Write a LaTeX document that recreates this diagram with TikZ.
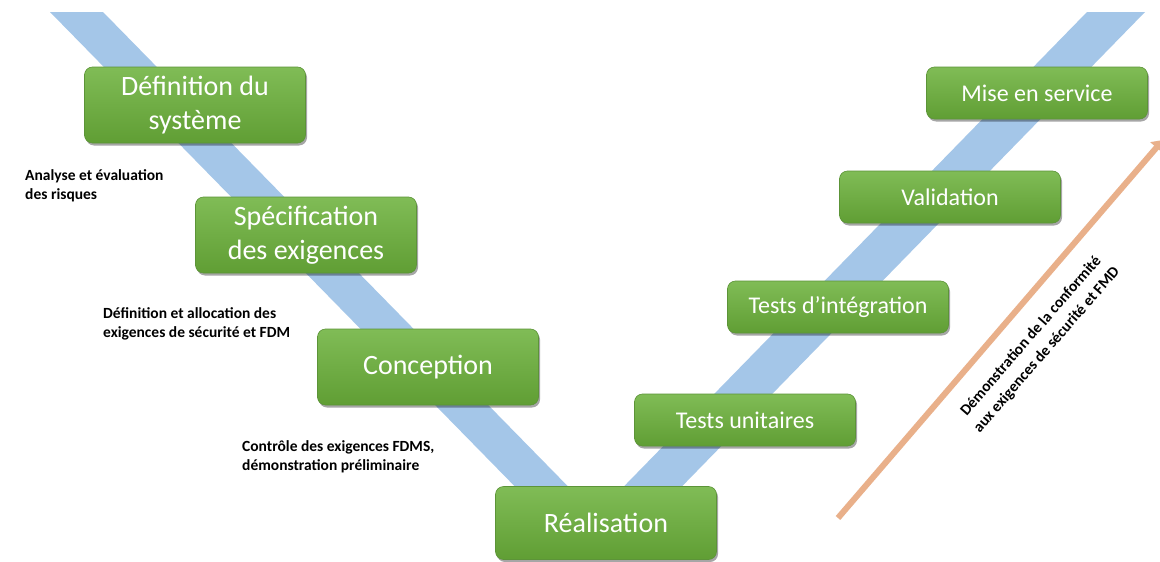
\documentclass[tikz,border=0pt]{standalone}
\usepackage{fontspec}
\setmainfont{Carlito}
\usetikzlibrary{shadows,arrows.meta}
\definecolor{band}{RGB}{164,198,232}
\definecolor{gtop}{RGB}{128,188,86}
\definecolor{gbot}{RGB}{96,158,52}
\definecolor{gline}{RGB}{92,148,56}
\definecolor{arrowc}{RGB}{233,176,138}
\begin{document}
\begin{tikzpicture}[x=1pt,y=-1pt,
  stage/.style={rounded corners=8pt, top color=gtop, bottom color=gbot, draw=gline, line width=0.6pt,
    drop shadow={shadow xshift=1.5pt, shadow yshift=-2.5pt, fill=black, opacity=0.35},
    text=white, align=center, inner sep=0pt, minimum width=221pt},
  big/.style={stage, minimum height=76pt, font=\fontsize{28}{34}\selectfont},
  small/.style={stage, minimum height=52pt, font=\fontsize{24}{28}\selectfont},
  note/.style={font=\bfseries\fontsize{15.5}{19.5}\selectfont, align=left, anchor=north west, inner sep=0pt}]
\useasboundingbox (0,0) rectangle (1160,562);
\clip (0,0) rectangle (1160,562);
\fill[white] (0,0) rectangle (1160,562);
% V band
\fill[band] (50,12) -- (103,12) -- (596,515) -- (1087,12) -- (1145,12) -- (615,555) -- (582,555) -- cycle;
% stages
\node[big] (def) at (195,105) {\raisebox{-3pt}{\parbox{200pt}{\centering Définition du\\système}}};
\node[big] (spec) at (306,235) {\raisebox{-3pt}{\parbox{200pt}{\centering Spécification\\des exigences}}};
\node[big] (conc) at (428,367) {Conception};
\node[big, minimum height=73pt] (real) at (606,523) {Réalisation};
\node[small] (tu) at (745,420) {Tests unitaires};
\node[small] (ti) at (838,307) {Tests d’intégration};
\node[small] (val) at (950,197) {Validation};
\node[small] (mes) at (1037,93) {Mise en service};
% notes
\node[note] (n1) at (25,169) {Analyse et évaluation\\des risques};
\node[note] (n2) at (103,307) {Définition et allocation des\\exigences de sécurité et FDM};
\node[note] (n3) at (242,440) {Contrôle des exigences FDMS,\\démonstration préliminaire};
% conformity arrow
\coordinate (as) at (838,518);
\coordinate (ae) at (1163,140);
\draw[arrowc, line width=6pt, -{Triangle[length=10pt,width=16pt]}] (as) -- (ae);
\node[font=\bfseries\fontsize{15.5}{21}\selectfont, align=center, rotate=49, inner sep=0pt] (demo) at (1039,343)
  {Démonstration de la conformité\\aux exigences de sécurité et FMD};
\end{tikzpicture}
\end{document}
